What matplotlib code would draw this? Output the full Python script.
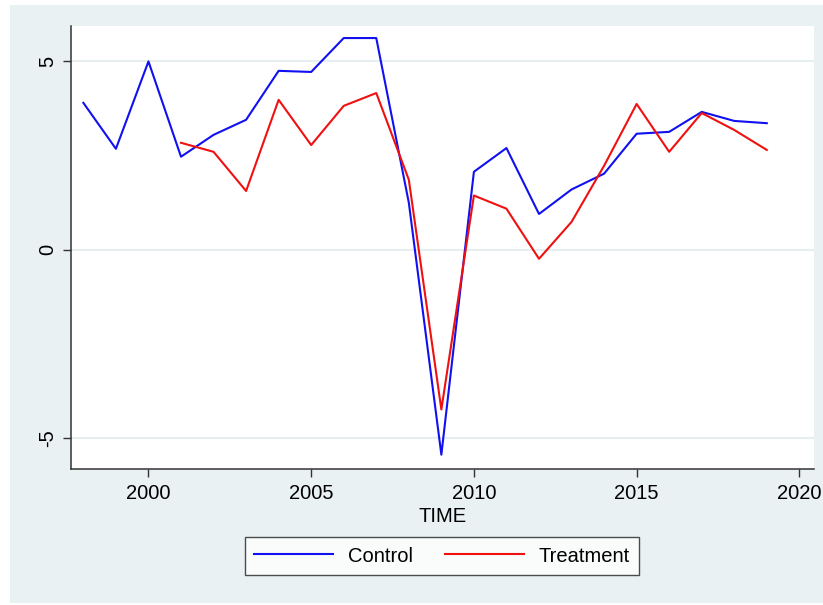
import matplotlib
matplotlib.use("Agg")
import matplotlib.pyplot as plt
from matplotlib.patches import Rectangle

plt.rcParams['font.family'] = ['Liberation Sans', 'DejaVu Sans']

years_control = list(range(1998, 2020))
control = [3.90, 2.68, 5.00, 2.47, 3.05, 3.45, 4.75, 4.72, 5.62, 5.62, 1.25,
           -5.44, 2.07, 2.70, 0.95, 1.60, 2.02, 3.08, 3.13, 3.66, 3.42, 3.36]
years_treat = list(range(2001, 2020))
treatment = [2.84, 2.60, 1.56, 3.98, 2.78, 3.82, 4.16, 1.86, -4.24, 1.44,
             1.09, -0.24, 0.74, 2.23, 3.87, 2.60, 3.63, 3.18, 2.65]
xticks = [2000, 2005, 2010, 2015, 2020]
yticks = [-5, 0, 5]

W, H = 823, 605
fig = plt.figure(figsize=(W/100, H/100), dpi=100, facecolor='white')
bg = '#E9F1F2'
fig.patches.append(Rectangle((10/W, 2/H), 1 - 10/W, 1 - 7/H, transform=fig.transFigure,
                             facecolor=bg, edgecolor='none', zorder=-10))

ax = fig.add_axes([71/W, 1 - 469/H, (814 - 71)/W, (469 - 26)/H])
ax.set_facecolor('white')
ax.plot(years_control, control, color='#1010F0', lw=1.5, label='Control')
ax.plot(years_treat, treatment, color='#F01010', lw=1.5, label='Treatment')

ax.set_xlim(1997.62, 2020.45)
ax.set_ylim(-5.82, 5.94)
ax.set_xticks(xticks)
ax.set_yticks(yticks)
ax.set_yticklabels([str(v) for v in yticks], rotation=90, va='center')
ax.grid(axis='y', color='#E6EEF0', lw=1.5)
ax.set_axisbelow(True)
for s in ['top', 'right']:
    ax.spines[s].set_visible(False)
for s in ['left', 'bottom']:
    ax.spines[s].set_color('#333333')
    ax.spines[s].set_linewidth(1.1)
ax.tick_params(axis='both', length=6, width=1, color='#333333', labelsize=14.5)
ax.tick_params(axis='x', pad=5)
ax.tick_params(axis='y', pad=4)
ax.set_xlabel('TIME', fontsize=14.5, labelpad=3)

leg = fig.legend(loc='center', bbox_to_anchor=(442/W, 1 - 556/H), ncol=2,
                 fontsize=14.5, handlelength=3.9, handletextpad=0.75,
                 columnspacing=1.6, frameon=True, fancybox=False,
                 borderpad=0.45, borderaxespad=0)
leg.get_frame().set_edgecolor('#222222')
leg.get_frame().set_linewidth(1.0)
leg.get_frame().set_facecolor('white')

fig.savefig('out.png', dpi=100, facecolor=fig.get_facecolor())
